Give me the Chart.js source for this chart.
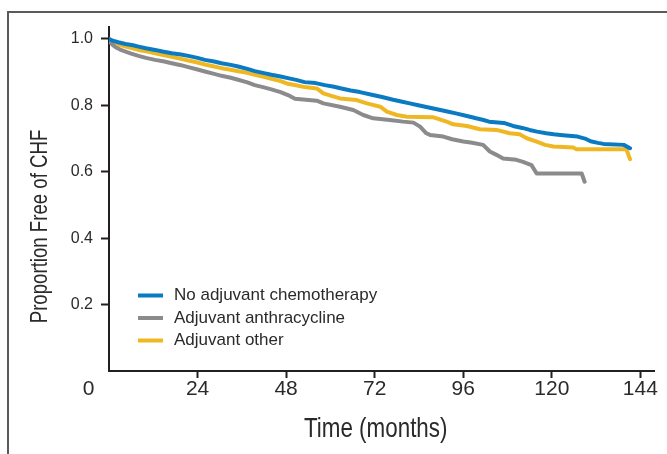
<!DOCTYPE html>
<html>
<head>
<meta charset="utf-8">
<script src="https://cdn.jsdelivr.net/npm/chart.js@4/dist/chart.umd.min.js"></script>
<style>
  html, body { margin: 0; padding: 0; background: #ffffff; }
  #wrap { position: relative; width: 667px; height: 454px; overflow: hidden; }
  #frame { position: absolute; left: 7px; top: 11px; width: 720px; height: 520px;
           border-left: 2px solid #5a5a5a; border-top: 2px solid #5a5a5a; pointer-events: none; }
  canvas { position: absolute; left: 0; top: 0; }
</style>
</head>
<body>
<div id="wrap">
  <canvas id="c" width="667" height="454"></canvas>
  <div id="frame"></div>
</div>
<script>
// ---- data (months, proportion free of CHF) ----
const seriesLabels = ['No adjuvant chemotherapy', 'Adjuvant anthracycline', 'Adjuvant other'];
const xAxisTitle = 'Time (months)';
const yAxisTitle = 'Proportion Free of CHF';

const noAdjuvantTime = [0, 1, 2.5, 4.5, 6.5, 8, 10, 12.5, 14.5, 17, 19.5, 21.5, 24, 26, 28.5, 30.5, 33, 35, 37.5, 39.5,
  42, 44, 46.5, 48.5, 51, 53, 56, 58.5, 61, 63, 65.5, 68, 71.5, 74, 77, 79.5, 81.5, 83.5, 86, 89.5,
  92, 94, 97, 99.5, 101.5, 103, 107, 109.5, 112, 114, 116, 118.5, 120.5, 123, 127, 129, 130.5, 132.5, 134, 139.5, 141.2];
const noAdjuvantValue = [1.000, 0.995, 0.990, 0.985, 0.981, 0.977, 0.972, 0.967, 0.962, 0.957, 0.953, 0.949, 0.943, 0.937, 0.932, 0.927, 0.922, 0.917, 0.910, 0.903,
  0.897, 0.892, 0.887, 0.882, 0.876, 0.870, 0.867, 0.861, 0.856, 0.851, 0.845, 0.840, 0.831, 0.825, 0.817, 0.811, 0.806, 0.801, 0.795, 0.787,
  0.781, 0.776, 0.768, 0.761, 0.756, 0.751, 0.747, 0.738, 0.732, 0.726, 0.721, 0.716, 0.713, 0.710, 0.706, 0.700, 0.692, 0.687, 0.684, 0.681, 0.671];

const anthracyclineTime = [0, 0.3, 1, 1.8, 3, 4.5, 6, 8, 10, 12.5, 15, 17, 19.5, 21.5, 24, 26, 28.5, 30.5, 33, 35,
  37.5, 39.5, 42, 44, 46.5, 48.5, 50.4, 56.3, 58.1, 62.6, 66.2, 68.9, 71.6, 76.1, 79.7, 82.5, 84.3, 86, 87, 90.6,
  93, 96, 98, 101.4, 103.2, 105, 106.8, 110.4, 112.2, 114.5, 115.9, 128.1, 128.9];
const anthracyclineValue = [1.000, 0.990, 0.982, 0.975, 0.968, 0.962, 0.956, 0.949, 0.943, 0.937, 0.932, 0.927, 0.921, 0.915, 0.908, 0.902, 0.895, 0.889, 0.883, 0.877,
  0.869, 0.861, 0.854, 0.848, 0.840, 0.831, 0.820, 0.814, 0.806, 0.796, 0.786, 0.771, 0.761, 0.756, 0.751, 0.748, 0.736, 0.716, 0.711, 0.706,
  0.698, 0.691, 0.688, 0.681, 0.661, 0.651, 0.640, 0.636, 0.630, 0.620, 0.595, 0.595, 0.570];

const otherTime = [0, 1, 2.5, 4.5, 6.5, 8, 10.5, 12.5, 15, 17, 19.5, 21.5, 24, 26, 28.5, 30.5, 33, 35, 37.5, 39.5,
  42, 44, 46.5, 48.5, 51, 53, 56.3, 58.1, 60.5, 62.6, 67.1, 69.9, 73.5, 75.3, 78, 80.7, 87.9, 88.8, 91.5, 93.3,
  97, 100.5, 105, 108.6, 111.3, 113.2, 115.9, 118.2, 120.4, 125.8, 126.7, 140.2, 141.2];
const otherValue = [1.000, 0.991, 0.984, 0.977, 0.972, 0.967, 0.962, 0.957, 0.951, 0.946, 0.940, 0.935, 0.929, 0.923, 0.917, 0.912, 0.907, 0.903, 0.898, 0.892,
  0.886, 0.880, 0.873, 0.865, 0.860, 0.855, 0.851, 0.836, 0.828, 0.821, 0.816, 0.806, 0.796, 0.781, 0.771, 0.766, 0.764, 0.761, 0.751, 0.743,
  0.738, 0.728, 0.726, 0.716, 0.713, 0.701, 0.691, 0.681, 0.676, 0.673, 0.668, 0.668, 0.638];

const xTickValues = [0, 24, 48, 72, 96, 120, 144];
const yTickValues = [0.2, 0.4, 0.6, 0.8, 1.0];
const seriesColors = ['#0a7bc2', '#8b8b8d', '#efb823'];

// ---- build chart ----
const SANS = '"Liberation Sans", Arial, Helvetica, sans-serif';
const INK = '#231f20';
const TXT = '#2a2a2a';

function pts(t, v) { return t.map((x, i) => ({ x: x, y: v[i] })); }

// legend inside the plot area + condensed axis titles
const decorPlugin = {
  id: 'decor',
  afterDraw(chart) {
    const ctx = chart.ctx;
    ctx.save();
    // legend
    const rows = [295.5, 318, 340.5];
    chart.data.datasets.forEach((ds, i) => {
      const y = rows[i];
      ctx.strokeStyle = ds.borderColor;
      ctx.lineWidth = 4;
      ctx.lineCap = 'butt';
      ctx.beginPath();
      ctx.moveTo(138, y);
      ctx.lineTo(163, y);
      ctx.stroke();
      ctx.fillStyle = TXT;
      ctx.font = '17px ' + SANS;
      ctx.textAlign = 'left';
      ctx.textBaseline = 'middle';
      ctx.fillText(ds.label, 174, y);
    });
    // x axis title
    ctx.fillStyle = TXT;
    ctx.textAlign = 'center';
    ctx.textBaseline = 'middle';
    ctx.save();
    ctx.translate(375.7, 429.6);
    ctx.scale(0.8, 1);
    ctx.font = '28px ' + SANS;
    ctx.fillText(xAxisTitle, 0, 0);
    ctx.restore();
    // y axis title
    ctx.save();
    ctx.translate(40, 226.5);
    ctx.rotate(-Math.PI / 2);
    ctx.scale(0.76, 1);
    ctx.font = '24.5px ' + SANS;
    ctx.fillText(yAxisTitle, 0, 0);
    ctx.restore();
    ctx.restore();
  }
};

new Chart(document.getElementById('c'), {
  type: 'line',
  data: {
    datasets: [
      { label: seriesLabels[0], data: pts(noAdjuvantTime, noAdjuvantValue), borderColor: seriesColors[0] },
      { label: seriesLabels[1], data: pts(anthracyclineTime, anthracyclineValue), borderColor: seriesColors[1] },
      { label: seriesLabels[2], data: pts(otherTime, otherValue), borderColor: seriesColors[2] }
    ]
  },
  options: {
    responsive: false,
    animation: false,
    devicePixelRatio: 1,
    layout: { padding: { left: 20, right: 13, top: 27, bottom: 0 } },
    elements: {
      line: { borderWidth: 4, tension: 0, fill: false, borderJoinStyle: 'round', borderCapStyle: 'round' },
      point: { radius: 0, hoverRadius: 0 }
    },
    plugins: { legend: { display: false }, tooltip: { enabled: false } },
    scales: {
      x: {
        type: 'linear', min: 0, max: 147.7,
        afterBuildTicks: s => { s.ticks = xTickValues.map(v => ({ value: v })); },
        afterFit: s => { s.height = 83; s.paddingLeft = 0; s.paddingRight = 0; },
        grid: {
          drawOnChartArea: false, drawTicks: true, tickLength: 7, tickWidth: 2,
          tickColor: c => (c.tick && c.tick.value === 0) ? 'rgba(0,0,0,0)' : INK
        },
        border: { display: true, color: INK, width: 2 },
        ticks: {
          autoSkip: false, maxRotation: 0, minRotation: 0, padding: 1, color: TXT,
          font: { family: SANS, size: 21, lineHeight: 1 },
          callback: v => v === 0 ? '0       ' : String(v)
        },
        title: { display: false }
      },
      y: {
        type: 'linear', min: 0, max: 1.036,
        afterBuildTicks: s => { s.ticks = yTickValues.map(v => ({ value: v })); },
        afterFit: s => { s.width = 89; s.paddingTop = 0; s.paddingBottom = 0; },
        grid: { drawOnChartArea: false, drawTicks: true, tickLength: 8, tickWidth: 2, tickColor: INK },
        border: { display: true, color: INK, width: 2 },
        ticks: {
          padding: 8, color: TXT,
          font: { family: SANS, size: 16 },
          callback: v => Number(v).toFixed(1)
        },
        title: { display: false }
      }
    }
  },
  plugins: [decorPlugin]
});
</script>
</body>
</html>
